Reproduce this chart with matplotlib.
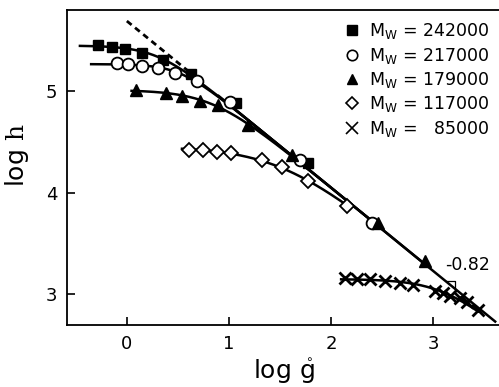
import numpy as np
import matplotlib
matplotlib.use("Agg")
import matplotlib.pyplot as plt

plt.rcParams['font.family'] = ['DejaVu Sans']

# data: log g (x) and log h (y) for each molecular weight
labels = ["242000", "217000", "179000", "117000", "\u200785000"]

x_242 = [-0.284, -0.147, -0.020, 0.147, 0.353, 0.627, 1.069, 1.775]
y_242 = [5.453, 5.434, 5.414, 5.379, 5.305, 5.167, 4.882, 4.291]

x_217 = [-0.098, 0.013, 0.144, 0.307, 0.471, 0.683, 1.010, 1.696, 2.402]
y_217 = [5.273, 5.266, 5.246, 5.224, 5.180, 5.099, 4.895, 4.320, 3.700]

x_179 = [0.088, 0.382, 0.539, 0.716, 0.892, 1.186, 1.618, 2.461, 2.922]
y_179 = [5.010, 4.980, 4.950, 4.900, 4.860, 4.670, 4.375, 3.700, 3.330]

x_117 = [0.608, 0.745, 0.882, 1.020, 1.324, 1.520, 1.775, 2.157]
y_117 = [4.419, 4.419, 4.399, 4.389, 4.320, 4.251, 4.113, 3.867]

x_85 = [2.137, 2.255, 2.382, 2.529, 2.676, 2.804, 3.020, 3.098, 3.167, 3.265, 3.333, 3.441]
y_85 = [3.158, 3.148, 3.148, 3.128, 3.108, 3.089, 3.030, 3.010, 2.980, 2.961, 2.921, 2.842]

curve_start = [-0.46, -0.35, 0.046, 0.54, 2.10]

# limiting power-law line, slope -0.82
slope = -0.82
intercept = 5.69
line_solid = [0.9, 3.61]
line_dashed = [0.0, 0.75]


def model(x, y0, k):
    xc = (intercept - y0) / -slope
    return y0 + slope / k * np.log10(1 + 10 ** (k * (x - xc)))


def fit(x, y):
    x = np.asarray(x)
    y = np.asarray(y)
    y0s = np.linspace(y.max() - 0.05, y.max() + 0.3, 141)[:, None, None]
    ks = np.linspace(0.5, 6, 111)[None, :, None]
    err = ((model(x[None, None, :], y0s, ks) - y) ** 2).sum(axis=2)
    i, j = np.unravel_index(err.argmin(), err.shape)
    return y0s[i, 0, 0], ks[0, j, 0]


series = [
    (x_242, y_242, dict(marker='s', ms=7, mfc='black', mec='black')),
    (x_217, y_217, dict(marker='o', ms=8.5, mfc='white', mec='black', mew=1.3)),
    (x_179, y_179, dict(marker='^', ms=8.5, mfc='black', mec='black')),
    (x_117, y_117, dict(marker='D', ms=7, mfc='white', mec='black', mew=1.3)),
    (x_85, y_85, dict(marker='x', ms=8, mec='black', mew=2)),
]

fig = plt.figure(figsize=(4.99, 3.87), dpi=100)
ax = fig.add_axes([0.134, 0.160, 0.870, 0.814])

for (xs, ys, st), x0 in zip(series, curve_start):
    y0, k = fit(xs, ys)
    xx = np.linspace(x0, xs[-1], 200)
    ax.plot(xx, model(xx, y0, k), color='black', lw=1.8, zorder=2)
    ax.plot(xs, ys, ls='none', zorder=3, **st)

xl = np.array(line_solid)
ax.plot(xl, intercept + slope * xl, color='black', lw=1.8, zorder=2)
xd = np.array(line_dashed)
ax.plot(xd, intercept + slope * xd, color='black', lw=2.0, ls=(0, (2.2, 1.6)), zorder=2)

# slope triangle
xa, xb = 3.127, 3.216
ax.plot([xa, xb, xb], [intercept + slope * xa, intercept + slope * xa, intercept + slope * xb],
        color='black', lw=0.9, zorder=2)
ax.text(3.118, 3.29, "-0.82", fontsize=12.5, va='center', ha='left')

# legend
handles = []
leg_styles = [
    dict(marker='s', ms=6.5, mfc='black', mec='black'),
    dict(marker='o', ms=7.5, mfc='white', mec='black', mew=1.2),
    dict(marker='^', ms=7.5, mfc='black', mec='black'),
    dict(marker='D', ms=6, mfc='white', mec='black', mew=1.2),
    dict(marker='x', ms=8, mec='black', mew=1.2),
]
for lab, st in zip(labels, leg_styles):
    h, = ax.plot([], [], ls='none', label=r"M$_\mathrm{W}$ = " + lab, **st)
    handles.append(h)
ax.legend(handles=handles, loc='upper right', frameon=False, fontsize=12.5,
          handlelength=1.0, handletextpad=0.5, labelspacing=0.25,
          borderaxespad=0.3, borderpad=0.35)

ax.set_xlim(-0.588, 3.667)
ax.set_ylim(2.695, 5.798)
ax.set_xticks([0, 1, 2, 3])
ax.set_yticks([3, 4, 5])
ax.tick_params(direction='in', length=6, width=1.2, labelsize=13, pad=7,
               top=False, right=False)
for s in ax.spines.values():
    s.set_linewidth(1.3)

ax.set_xlabel(r"log $\mathring{\mathrm{g}}$", fontsize=18, math_fontfamily='dejavusans', labelpad=2)
ax.set_ylabel(r"log $\mathrm{h}$", fontsize=18, math_fontfamily='dejavuserif')
ax.yaxis.set_label_coords(-0.083, 0.54)

fig.savefig("out.png", dpi=100)
